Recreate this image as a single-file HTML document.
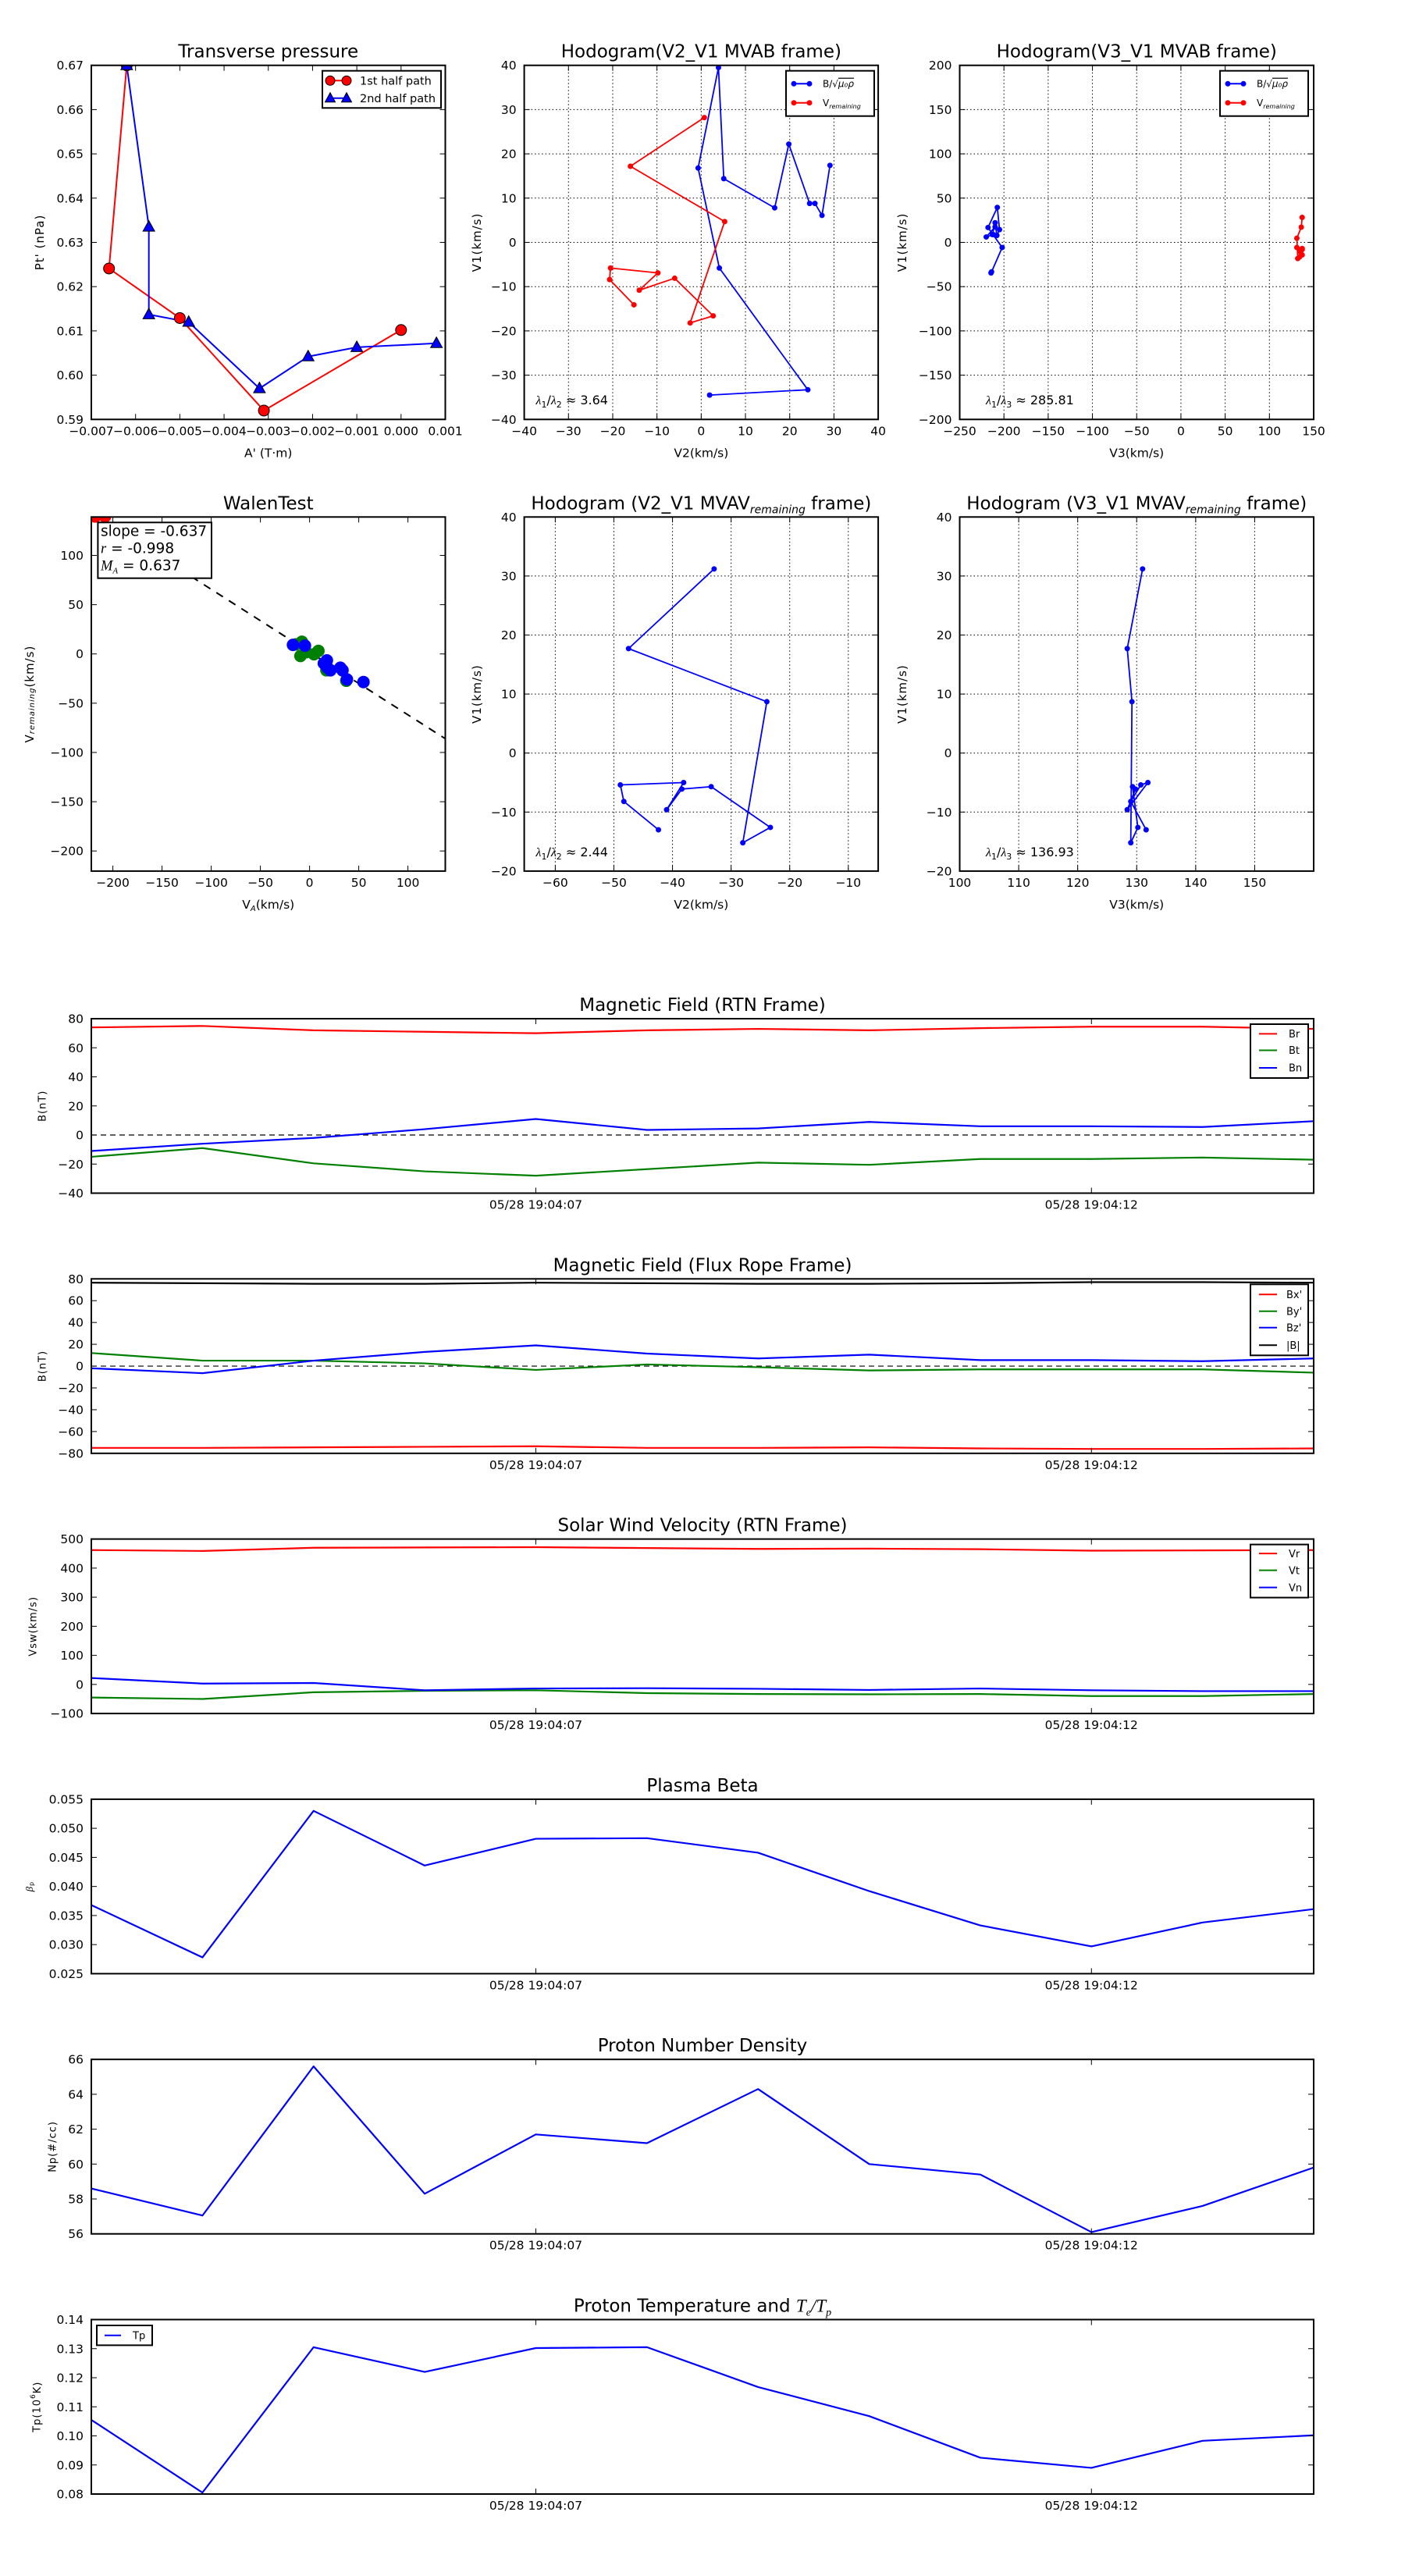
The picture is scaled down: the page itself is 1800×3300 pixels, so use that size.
<!DOCTYPE html>
<html><head><meta charset="utf-8"><title>Flux rope analysis</title>
<style>
html,body{margin:0;padding:0;background:#fff;}
svg{display:block;font-family:"DejaVu Sans","Liberation Sans",sans-serif;}
</style></head>
<body>
<svg id="fig" xmlns="http://www.w3.org/2000/svg" width="1800" height="3300" viewBox="0 0 1800 3300">
<defs id="defs"></defs>
<rect x="0" y="0" width="1800" height="3300" fill="#fff"/>
</svg>
<script>
// ---------- data ----------
const ptA1 = [-0.0062, -0.0066, -0.0050, -0.0031, 0.0000];
const ptP1 = [0.670, 0.6241, 0.6129, 0.5920, 0.6102];
const ptA2 = [-0.0062, -0.0057, -0.0057, -0.0048, -0.0032, -0.0021, -0.0010, 0.0008];
const ptP2 = [0.670, 0.6335, 0.6137, 0.6120, 0.5970, 0.6042, 0.6063, 0.6072];
const hbV2 = [1.9, 24.1, 4.1, -0.7, 3.9, 5.1, 16.6, 19.8, 24.5, 25.7, 27.3, 29.1];
const hbV1 = [-34.5, -33.3, -5.8, 16.8, 39.5, 14.4, 7.8, 22.2, 8.8, 8.8, 6.1, 17.4];
const hbV3 = [-214.6, -214, -202, -218, -207.5, -205, -208, -210, -213, -212, -220, -210];
const hvV2 = [0.7, -16.0, 5.3, -2.5, 2.7, -6.0, -14.0, -9.8, -20.5, -20.7, -15.2];
const hvV1 = [28.2, 17.2, 4.7, -18.2, -16.6, -8.1, -10.8, -6.9, -5.8, -8.4, -14.1];
const hvV3 = [137, 136, 131, 132, 134, 137, 135, 137, 131, 134, 137];
const walBlueX = [-16.9, -4.7, 17.6, 14.5, 18.2, 21.2, 31.3, 33.5, 38.0, 54.8, 17.0];
const walBlueY = [9.2, 8.4, -6.6, -9.5, -14.0, -16.6, -14.0, -16.6, -25.9, -28.5, -12.4];
const walGreenX = [-7.8, -9.3, -3.5, 4.5, 9.0, -13.9, 17.1, 37.3];
const walGreenY = [12.4, -2.1, 1.8, -0.3, 3.1, 9.7, -16.6, -27.2];
const walRedX = [-218, -208];
const walRedY = [139.5, 139.5];
const walSlope = [-0.637];
const walIntercept = [1.9];
const hrV2 = [-32.9, -47.5, -23.9, -28.0, -23.3, -33.4, -38.4, -41.0, -38.1, -48.9, -48.3, -42.4];
const hrV1 = [31.2, 17.7, 8.7, -15.2, -12.6, -5.7, -6.1, -9.6, -5.0, -5.4, -8.2, -13.0];
const hrV3 = [131.0, 128.4, 129.2, 129.0, 130.2, 129.3, 129.8, 128.4, 131.9, 130.7, 129.0, 131.6];
const timeIdx = [0,1,2,3,4,5,6,7,8,9,10,11];
const timeTickIdx = [4, 9];
const timeTickLabels = ["05/28 19:04:07", "05/28 19:04:12"];
const Br = [74, 75, 72, 71, 70, 72, 73, 72, 73.5, 74.5, 74.5, 73];
const Bt = [-15, -9, -19.5, -25, -28, -23.5, -19, -20.5, -16.5, -16.5, -15.5, -17];
const Bn = [-11, -6, -2, 4, 11, 3.5, 4.5, 9, 6, 6, 5.5, 9.5];
const Bx1 = [-75, -75, -74.5, -74, -73.5, -75, -75, -74.5, -75.5, -76, -76, -75.5];
const By1 = [12, 5, 5, 2.5, -3.5, 1.5, -1, -4, -3, -3, -3, -6];
const Bz1 = [-2, -6.5, 5, 13, 19, 11.5, 7, 10.5, 5.5, 5.5, 4.5, 7];
const Bmag = [76.5, 76, 75.5, 75.5, 76.5, 76, 75.5, 75.5, 76, 77, 77, 76.5];
const Vr = [462, 459, 470, 471, 472, 469, 466, 467, 465, 460, 461, 462];
const Vt = [-45, -50, -27, -22, -20, -30, -33, -34, -33, -40, -40, -33];
const Vn = [22, 3, 5, -20, -14, -13, -15, -19, -14, -20, -23, -23];
const beta = [0.0368, 0.0278, 0.0530, 0.0436, 0.0482, 0.0483, 0.0458, 0.0392, 0.0333, 0.0297, 0.0338, 0.0361];
const Np = [58.6, 57.05, 65.6, 58.3, 61.7, 61.2, 64.3, 60.0, 59.4, 56.1, 57.6, 59.8];
const Tp = [0.1055, 0.0805, 0.1305, 0.1220, 0.1302, 0.1305, 0.1168, 0.1068, 0.0925, 0.0890, 0.0983, 0.1002];

// ---------- helpers ----------
const NS = 'http://www.w3.org/2000/svg';
const svg = document.getElementById('fig');
const defs = document.getElementById('defs');
let clipCount = 0;
function el(tag, attrs, parent){
  const e = document.createElementNS(NS, tag);
  for (const k in attrs) e.setAttribute(k, attrs[k]);
  parent.appendChild(e);
  return e;
}
function fmt(v, d){ const s = Math.abs(v).toFixed(d); return (v < -1e-12 ? '\u2212' : '') + s; }
function range(a, b, s){ const r = []; for (let v = a; v <= b + s*1e-6; v += s) r.push(Math.round(v/s)*s); return r; }

function axes(o){
  const g = el('g', {}, svg);
  
  
  const sx = v => o.x + (v - o.xmin) / (o.xmax - o.xmin) * o.w;
  const sy = v => o.y + o.h - (v - o.ymin) / (o.ymax - o.ymin) * o.h;
  const cid = 'clip' + (clipCount++);
  const cp = el('clipPath', {id: cid}, defs);
  el('rect', {x: o.x, y: o.y, width: o.w, height: o.h}, cp);
  if (o.grid) {
    const gg = el('g', {stroke: '#000', 'stroke-width': 1, 'stroke-dasharray': '1.5,3'}, g);
    
    
    o.xticks.forEach(v => { const X = sx(v); if (X > o.x+1 && X < o.x+o.w-1) el('line', {x1: X, x2: X, y1: o.y, y2: o.y+o.h}, gg); });
    o.yticks.forEach(v => { const Y = sy(v); if (Y > o.y+1 && Y < o.y+o.h-1) el('line', {x1: o.x, x2: o.x+o.w, y1: Y, y2: Y}, gg); });
  }
  const plot = el('g', {'clip-path': 'url(#' + cid + ')'}, g);
  
  
  const fr = el('g', {}, g);
  
  
  el('rect', {x: o.x, y: o.y, width: o.w, height: o.h, fill: 'none', stroke: '#000', 'stroke-width': 2}, fr);
  const xl = el('g', {'font-size': 15.5, 'text-anchor': 'middle', fill: '#000'}, g);
  
  
  o.xticks.forEach((v, i) => {
    const X = sx(v);
    el('line', {x1: X, x2: X, y1: o.y+o.h, y2: o.y+o.h-7, stroke: '#000', 'stroke-width': 1}, fr);
    el('line', {x1: X, x2: X, y1: o.y, y2: o.y+7, stroke: '#000', 'stroke-width': 1}, fr);
    const t = el('text', {x: X, y: o.y+o.h+20}, xl);
    t.textContent = o.xlabels ? o.xlabels[i] : fmt(v, o.xd);
  });
  const yl = el('g', {'font-size': 15.5, 'text-anchor': 'end', fill: '#000'}, g);
  
  
  o.yticks.forEach(v => {
    const Y = sy(v);
    el('line', {x1: o.x, x2: o.x+7, y1: Y, y2: Y, stroke: '#000', 'stroke-width': 1}, fr);
    el('line', {x1: o.x+o.w, x2: o.x+o.w-7, y1: Y, y2: Y, stroke: '#000', 'stroke-width': 1}, fr);
    const t = el('text', {x: o.x-10, y: Y+5.5}, yl);
    t.textContent = fmt(v, o.yd);
  });
  const ti = el('text', {x: o.x+o.w/2, y: o.y-10, 'font-size': 23, 'text-anchor': 'middle'}, g);
  
  
  ti.innerHTML = o.title;
  if (o.xlabel) {
    const xt = el('text', {x: o.x+o.w/2, y: o.y+o.h+48, 'font-size': 15.5, 'text-anchor': 'middle'}, g);
    
    
    xt.innerHTML = o.xlabel;
  }
  if (o.ylabel) {
    const yx = o.ylx, yy = o.y + o.h/2;
    const yt = el('text', {x: yx, y: yy, 'font-size': o.ylfs || 15, 'text-anchor': 'middle', 'letter-spacing': 1, transform: 'rotate(-90 ' + yx + ' ' + yy + ')', 'dominant-baseline': 'central'}, g);
    
    
    yt.innerHTML = o.ylabel;
  }
  return {sx, sy, plot, g};
}
function line(ax, xs, ys, color, w, parent, name, dash){
  const pts = xs.map((x, i) => ax.sx(x).toFixed(2) + ',' + ax.sy(ys[i]).toFixed(2)).join(' ');
  const p = el('polyline', {points: pts, fill: 'none', stroke: color, 'stroke-width': w, 'stroke-linejoin': 'round'}, parent || ax.plot);
  if (dash) p.setAttribute('stroke-dasharray', dash);
  
  
  return p;
}
function dots(ax, xs, ys, color, r, parent, name, stroke){
  const g = el('g', {}, parent || ax.plot);
  
  
  xs.forEach((x, i) => {
    const c = el('circle', {cx: ax.sx(x), cy: ax.sy(ys[i]), r: r, fill: color}, g);
    if (stroke) { c.setAttribute('stroke', stroke); c.setAttribute('stroke-width', 1); }
  });
  return g;
}
function tris(ax, xs, ys, color, parent, name){
  const g = el('g', {}, parent || ax.plot);
  
  
  xs.forEach((x, i) => {
    const X = ax.sx(x), Y = ax.sy(ys[i]);
    el('polygon', {points: X + ',' + (Y-8) + ' ' + (X-7.5) + ',' + (Y+5.5) + ' ' + (X+7.5) + ',' + (Y+5.5), fill: color, stroke: '#000', 'stroke-width': 1}, g);
  });
  return g;
}
function legendBox(parent, x, y, w, h, name){
  const g = el('g', {}, parent);
  
  
  el('rect', {x: x, y: y, width: w, height: h, fill: '#fff', stroke: '#000', 'stroke-width': 2}, g);
  return g;
}
function legendLine(lg, x1, x2, y, color, label, tx, fs, name){
  const e = el('g', {}, lg);
  
  
  el('line', {x1: x1, x2: x2, y1: y, y2: y, stroke: color, 'stroke-width': 2}, e);
  const t = el('text', {x: tx, y: y + fs*0.36, 'font-size': fs}, e);
  t.innerHTML = label;
  return e;
}

// ---------- Row 1 ----------
const R1Y = 83.7, R1H = 453.6, R2Y = 662.3, PW = 453.5;
const C1 = 117, C2 = 671.6, C3 = 1229.5;

{
  const ax = axes({name: 'transverse-pressure-chart', x: C1, y: R1Y, w: PW, h: R1H, xmin: -0.007, xmax: 0.001, ymin: 0.59, ymax: 0.67,
    xticks: range(-0.007, 0.001, 0.001), yticks: range(0.59, 0.67, 0.01), xd: 3, yd: 2,
    title: 'Transverse pressure', xlabel: "A' (T\u00b7m)", ylabel: "Pt' (nPa)", ylx: 51});
  line(ax, ptA1, ptP1, '#f00', 2, null, 'first-half-path-line');
  line(ax, ptA2, ptP2, '#00f', 2, null, 'second-half-path-line');
  dots(ax, ptA1, ptP1, '#f00', 7, null, 'first-half-path-markers', '#000');
  tris(ax, ptA2, ptP2, '#00f', null, 'second-half-path-markers');
  const lg = legendBox(ax.g, 413, 90.7, 152, 47.6, 'legend');
  const e1 = legendLine(lg, 423, 444, 103.3, '#f00', '1st half path', 461, 14.5, 'legend-entry-first-half');
  el('circle', {cx: 423, cy: 103.3, r: 6, fill: '#f00', stroke: '#000'}, e1);
  el('circle', {cx: 444, cy: 103.3, r: 6, fill: '#f00', stroke: '#000'}, e1);
  const e2 = legendLine(lg, 423, 444, 125.7, '#00f', '2nd half path', 461, 14.5, 'legend-entry-second-half');
  [423, 444].forEach(X => el('polygon', {points: X + ',' + (125.7-7) + ' ' + (X-6.5) + ',' + (125.7+5) + ' ' + (X+6.5) + ',' + (125.7+5), fill: '#00f', stroke: '#000'}, e2));
}

function lambdaText(ax, x, y, j, val){
  const t = el('text', {x: x, y: y, 'font-size': 16}, ax.g);
  
  
  t.innerHTML = '<tspan font-family="Liberation Serif, serif" font-style="italic">\u03bb</tspan><tspan font-size="11" dy="4">1</tspan><tspan dy="-4">/</tspan><tspan font-family="Liberation Serif, serif" font-style="italic">\u03bb</tspan><tspan font-size="11" dy="4">' + j + '</tspan><tspan dy="-4"> \u2248 ' + val + '</tspan>';
}
function hodoLegend(ax, x, y){
  const lg = legendBox(ax.g, x, y, 113, 58, 'legend');
  const e1 = legendLine(lg, x+10, x+30, y+16.6, '#00f', 'B/\u221a<tspan font-style="italic" text-decoration="overline">\u03bc\u2080\u03c1</tspan>', x+47, 12, 'legend-entry-b');
  el('circle', {cx: x+10, cy: y+16.6, r: 3.5, fill: '#00f'}, e1);
  el('circle', {cx: x+30, cy: y+16.6, r: 3.5, fill: '#00f'}, e1);
  const e2 = legendLine(lg, x+10, x+30, y+41, '#f00', 'V<tspan font-size="8" font-style="italic" dy="3">remaining</tspan>', x+47, 12, 'legend-entry-v');
  el('circle', {cx: x+10, cy: y+41, r: 3.5, fill: '#f00'}, e2);
  el('circle', {cx: x+30, cy: y+41, r: 3.5, fill: '#f00'}, e2);
}

{
  const ax = axes({name: 'hodogram-v2-v1-mvab', x: C2, y: R1Y, w: PW, h: R1H, xmin: -40, xmax: 40, ymin: -40, ymax: 40,
    xticks: range(-40, 40, 10), yticks: range(-40, 40, 10), xd: 0, yd: 0, grid: true,
    title: 'Hodogram(V2_V1 MVAB frame)', xlabel: 'V2(km/s)', ylabel: 'V1(km/s)', ylx: 611});
  line(ax, hbV2, hbV1, '#00f', 1.8, null, 'b-series-line');
  dots(ax, hbV2, hbV1, '#00f', 3.5, null, 'b-series-points');
  line(ax, hvV2, hvV1, '#f00', 1.8, null, 'v-series-line');
  dots(ax, hvV2, hvV1, '#f00', 3.5, null, 'v-series-points');
  hodoLegend(ax, 1007, 90.7);
  lambdaText(ax, 686.5, 518, 2, '3.64');
}
{
  const ax = axes({name: 'hodogram-v3-v1-mvab', x: C3, y: R1Y, w: PW, h: R1H, xmin: -250, xmax: 150, ymin: -200, ymax: 200,
    xticks: range(-250, 150, 50), yticks: range(-200, 200, 50), xd: 0, yd: 0, grid: true,
    title: 'Hodogram(V3_V1 MVAB frame)', xlabel: 'V3(km/s)', ylabel: 'V1(km/s)', ylx: 1156});
  line(ax, hbV3, hbV1, '#00f', 1.8, null, 'b-series-line');
  dots(ax, hbV3, hbV1, '#00f', 3.5, null, 'b-series-points');
  line(ax, hvV3, hvV1, '#f00', 1.8, null, 'v-series-line');
  dots(ax, hvV3, hvV1, '#f00', 3.5, null, 'v-series-points');
  hodoLegend(ax, 1563, 90.7);
  lambdaText(ax, 1263, 518, 3, '285.81');
}

// ---------- Row 2 ----------
{
  const ax = axes({name: 'walen-test-chart', x: C1, y: R2Y, w: PW, h: R1H, xmin: -221.9, xmax: 138.0, ymin: -220.4, ymax: 139,
    xticks: range(-200, 100, 50), yticks: range(-200, 100, 50), xd: 0, yd: 0,
    title: 'WalenTest', xlabel: 'V<tspan font-size="10" font-style="italic" dy="3">A</tspan><tspan dy="-3">(km/s)</tspan>',
    ylabel: 'V<tspan font-size="10" font-style="italic" dy="3">remaining</tspan><tspan dy="-3">(km/s)</tspan>', ylx: 38});
  const lx = [-221.9, 138.0];
  const ly = lx.map(x => walSlope[0]*x + walIntercept[0]);
  line(ax, lx, ly, '#000', 2, null, 'fit-line', '10,9');
  dots(ax, walRedX, walRedY, '#f00', 8, null, 'red-points');
  dots(ax, walGreenX, walGreenY, '#008000', 8, null, 'green-points');
  dots(ax, walBlueX, walBlueY, '#00f', 8, null, 'blue-points');
  const lg = legendBox(ax.g, 125.4, 669.3, 145.6, 71.4, 'fit-stats-box');
  const t1 = el('text', {x: 129, y: 686.5, 'font-size': 18.5}, lg); t1.textContent = 'slope = -0.637';
  const t2 = el('text', {x: 129, y: 708.5, 'font-size': 18.5}, lg);
  t2.innerHTML = '<tspan font-family="Liberation Serif, serif" font-style="italic">r</tspan> = -0.998';
  const t3 = el('text', {x: 129, y: 730.5, 'font-size': 18.5}, lg);
  t3.innerHTML = '<tspan font-family="Liberation Serif, serif" font-style="italic">M</tspan><tspan font-family="Liberation Serif, serif" font-style="italic" font-size="11" dy="4">A</tspan><tspan dy="-4"> = 0.637</tspan>';
}
{
  const ax = axes({name: 'hodogram-v2-v1-mvav', x: C2, y: R2Y, w: PW, h: R1H, xmin: -65.3, xmax: -4.9, ymin: -20, ymax: 40,
    xticks: range(-60, -10, 10), yticks: range(-20, 40, 10), xd: 0, yd: 0, grid: true,
    title: 'Hodogram (V2_V1 MVAV<tspan font-size="14" font-style="italic" dy="5">remaining</tspan><tspan dy="-5"> frame)</tspan>',
    xlabel: 'V2(km/s)', ylabel: 'V1(km/s)', ylx: 611});
  line(ax, hrV2, hrV1, '#00f', 1.8, null, 'b-series-line');
  dots(ax, hrV2, hrV1, '#00f', 3.5, null, 'b-series-points');
  lambdaText(ax, 686.5, 1097, 2, '2.44');
}
{
  const ax = axes({name: 'hodogram-v3-v1-mvav', x: C3, y: R2Y, w: PW, h: R1H, xmin: 100, xmax: 160, ymin: -20, ymax: 40,
    xticks: range(100, 150, 10), yticks: range(-20, 40, 10), xd: 0, yd: 0, grid: true,
    title: 'Hodogram (V3_V1 MVAV<tspan font-size="14" font-style="italic" dy="5">remaining</tspan><tspan dy="-5"> frame)</tspan>',
    xlabel: 'V3(km/s)', ylabel: 'V1(km/s)', ylx: 1156});
  line(ax, hrV3, hrV1, '#00f', 1.8, null, 'b-series-line');
  dots(ax, hrV3, hrV1, '#00f', 3.5, null, 'b-series-points');
  lambdaText(ax, 1263, 1097, 3, '136.93');
}

// ---------- Time series ----------
const TX = 117, TW = 1566, TH = 223.5, TSTEP = 333.3;
function tpanel(i, o){
  o.x = TX; o.w = TW; o.h = TH; o.y = 1305 + TSTEP*i;
  o.xmin = 0; o.xmax = 11; o.xticks = timeTickIdx; o.xlabels = timeTickLabels; o.xd = 0;
  return axes(o);
}
function ly(i, v){ return v + TSTEP*i; }
{
  const ax = tpanel(0, {name: 'magnetic-field-rtn-chart', ymin: -40, ymax: 80, yticks: range(-40, 80, 20), yd: 0,
    title: 'Magnetic Field (RTN Frame)', ylabel: 'B(nT)', ylx: 55, ylfs: 13});
  line(ax, [0, 11], [0, 0], '#000', 1.2, null, 'zero-line', '7,5');
  line(ax, timeIdx, Br, '#f00', 2.2, null, 'br-line');
  line(ax, timeIdx, Bt, '#008000', 2.2, null, 'bt-line');
  line(ax, timeIdx, Bn, '#00f', 2.2, null, 'bn-line');
  const lg = legendBox(ax.g, 1602, 1312, 74, 69, 'legend');
  legendLine(lg, 1613, 1636, 1324.4, '#f00', 'Br', 1651, 13, 'legend-entry-br');
  legendLine(lg, 1613, 1636, 1345.5, '#008000', 'Bt', 1651, 13, 'legend-entry-bt');
  legendLine(lg, 1613, 1636, 1368, '#00f', 'Bn', 1651, 13, 'legend-entry-bn');
}
{
  const ax = tpanel(1, {name: 'magnetic-field-flux-rope-chart', ymin: -80, ymax: 80, yticks: range(-80, 80, 20), yd: 0,
    title: 'Magnetic Field (Flux Rope Frame)', ylabel: 'B(nT)', ylx: 55, ylfs: 13});
  line(ax, [0, 11], [0, 0], '#000', 1.2, null, 'zero-line', '7,5');
  line(ax, timeIdx, Bx1, '#f00', 2.2, null, 'bx-line');
  line(ax, timeIdx, By1, '#008000', 2.2, null, 'by-line');
  line(ax, timeIdx, Bz1, '#00f', 2.2, null, 'bz-line');
  line(ax, timeIdx, Bmag, '#000', 2.2, null, 'b-magnitude-line');
  const y0 = 1305 + TSTEP;
  const lg = legendBox(ax.g, 1602, y0 + 7, 74, 91, 'legend');
  legendLine(lg, 1613, 1636, y0 + 20, '#f00', "Bx'", 1648, 13, 'legend-entry-bx');
  legendLine(lg, 1613, 1636, y0 + 41.4, '#008000', "By'", 1648, 13, 'legend-entry-by');
  legendLine(lg, 1613, 1636, y0 + 62.5, '#00f', "Bz'", 1648, 13, 'legend-entry-bz');
  legendLine(lg, 1613, 1636, y0 + 85, '#000', '|B|', 1648, 13, 'legend-entry-bmag');
}
{
  const ax = tpanel(2, {name: 'solar-wind-velocity-chart', ymin: -100, ymax: 500, yticks: range(-100, 500, 100), yd: 0,
    title: 'Solar Wind Velocity (RTN Frame)', ylabel: 'Vsw(km/s)', ylx: 43, ylfs: 13});
  line(ax, timeIdx, Vr, '#f00', 2.2, null, 'vr-line');
  line(ax, timeIdx, Vt, '#008000', 2.2, null, 'vt-line');
  line(ax, timeIdx, Vn, '#00f', 2.2, null, 'vn-line');
  const y0 = 1305 + TSTEP*2;
  const lg = legendBox(ax.g, 1602, y0 + 7, 74, 68, 'legend');
  legendLine(lg, 1613, 1636, y0 + 18.5, '#f00', 'Vr', 1651, 13, 'legend-entry-vr');
  legendLine(lg, 1613, 1636, y0 + 40, '#008000', 'Vt', 1651, 13, 'legend-entry-vt');
  legendLine(lg, 1613, 1636, y0 + 62, '#00f', 'Vn', 1651, 13, 'legend-entry-vn');
}
{
  const ax = tpanel(3, {name: 'plasma-beta-chart', ymin: 0.025, ymax: 0.055, yticks: range(0.025, 0.055, 0.005), yd: 3,
    title: 'Plasma Beta', ylabel: '<tspan font-family="Liberation Serif, serif" font-style="italic">\u03b2</tspan><tspan font-size="8" dy="3">p</tspan>', ylx: 37, ylfs: 13});
  line(ax, timeIdx, beta, '#00f', 2.2, null, 'beta-line');
}
{
  const ax = tpanel(4, {name: 'proton-density-chart', ymin: 56, ymax: 66, yticks: range(56, 66, 2), yd: 0,
    title: 'Proton Number Density', ylabel: 'Np(#/cc)', ylx: 68, ylfs: 13});
  line(ax, timeIdx, Np, '#00f', 2.2, null, 'density-line');
}
{
  const ax = tpanel(5, {name: 'proton-temperature-chart', ymin: 0.08, ymax: 0.14, yticks: range(0.08, 0.14, 0.01), yd: 2,
    title: 'Proton Temperature and <tspan font-family="Liberation Serif, serif" font-style="italic">T</tspan><tspan font-family="Liberation Serif, serif" font-style="italic" font-size="14" dy="5">e</tspan><tspan font-family="Liberation Serif, serif" font-style="italic" dy="-5">/T</tspan><tspan font-family="Liberation Serif, serif" font-style="italic" font-size="14" dy="5">p</tspan>',
    ylabel: 'Tp(10<tspan font-size="9" dy="-5">6</tspan><tspan dy="5">K)</tspan>', ylx: 48, ylfs: 13});
  line(ax, timeIdx, Tp, '#00f', 2.2, null, 'tp-line');
  const y0 = 1305 + TSTEP*5;
  const lg = legendBox(ax.g, 124, y0 + 7.5, 71, 25.4, 'legend');
  legendLine(lg, 134, 155, y0 + 20.2, '#00f', 'Tp', 170, 13, 'legend-entry-tp');
}
</script>
</body></html>
